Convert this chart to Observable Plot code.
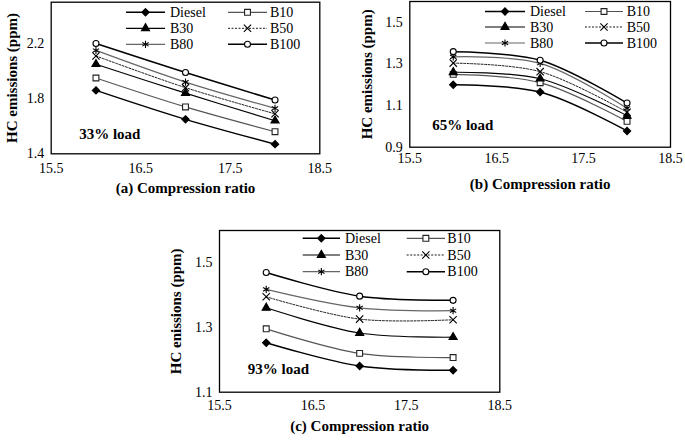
<!DOCTYPE html>
<html>
<head>
<meta charset="utf-8">
<script src="https://cdn.jsdelivr.net/npm/d3@7"></script>
<script src="https://cdn.jsdelivr.net/npm/@observablehq/plot@0.6"></script>
<style>
  html, body { margin: 0; padding: 0; background: #fff; }
  #wrap { position: relative; width: 685px; height: 441px; overflow: hidden; background: #fff; }
  #wrap svg { position: absolute; background: transparent; }
  #wrap svg text { font-family: "Liberation Serif", serif !important; }
</style>
</head>
<body>
<div id="wrap"></div>
<script>
// ---- data ----
const compressionRatio = [16, 17, 18];
const fuels = ["Diesel", "B10", "B30", "B50", "B80", "B100"];
const xTicks = [15.5, 16.5, 17.5, 18.5];

// HC emissions (ppm); rows follow `fuels`, columns = compression ratio 16, 17, 18
const hc33 = [
  [1.86, 1.65, 1.47],
  [1.95, 1.74, 1.56],
  [2.05, 1.84, 1.64],
  [2.11, 1.88, 1.69],
  [2.15, 1.92, 1.73],
  [2.20, 1.99, 1.79]
];
const hc65 = [
  [1.20, 1.165, 0.978],
  [1.25, 1.21, 1.024],
  [1.26, 1.229, 1.05],
  [1.304, 1.263, 1.068],
  [1.334, 1.303, 1.087],
  [1.359, 1.318, 1.112]
];
const hc93 = [
  [1.253, 1.181, 1.168],
  [1.296, 1.22, 1.207],
  [1.361, 1.283, 1.27],
  [1.395, 1.326, 1.324],
  [1.418, 1.361, 1.352],
  [1.47, 1.397, 1.384]
];
const yTicks33 = [1.4, 1.8, 2.2];
const yTicks65 = [0.9, 1.1, 1.3, 1.5];
const yTicks93 = [1.1, 1.3, 1.5];

// ---- styles ----
const FONT = "'Liberation Serif', serif";
const styles = [
  {stroke: "#000", w: 1.5, dash: null, symbol: "diamond2", d3sym: d3.symbolDiamond2, fill: "#000", mstroke: "#000", r: 3.3},
  {stroke: "#555", w: 1.2, dash: null, symbol: "square", d3sym: d3.symbolSquare, fill: "#fff", mstroke: "#222", r: 3.3},
  {stroke: "#000", w: 1.2, dash: null, symbol: "triangle", d3sym: d3.symbolTriangle, fill: "#000", mstroke: "#000", r: 3.0},
  {stroke: "#000", w: 0.9, dash: "2,1.5", symbol: "times", d3sym: d3.symbolTimes, fill: "none", mstroke: "#000", r: 3.4},
  {stroke: "#666", w: 1.2, dash: null, symbol: "asterisk", d3sym: d3.symbolAsterisk, fill: "none", mstroke: "#000", r: 3.4},
  {stroke: "#000", w: 1.5, dash: null, symbol: "circle", d3sym: d3.symbolCircle, fill: "#fff", mstroke: "#000", r: 3.0}
];

function panel(cfg) {
  const rows = [];
  fuels.forEach((f, i) => compressionRatio.forEach((cr, j) => rows.push({fuel: f, cr, hc: cfg.values[i][j]})));
  const marks = [];
  fuels.forEach((f, i) => {
    const s = styles[i];
    marks.push(Plot.line(rows.filter(r => r.fuel === f), {
      x: "cr", y: "hc", stroke: s.stroke, strokeWidth: s.w, strokeDasharray: s.dash, curve: "catmull-rom"
    }));
  });
  fuels.forEach((f, i) => {
    const s = styles[i];
    marks.push(Plot.dot(rows.filter(r => r.fuel === f), {
      x: "cr", y: "hc", symbol: s.symbol, r: s.r, fill: s.fill, stroke: s.mstroke, strokeWidth: 1.1
    }));
  });
  marks.push(Plot.frame({stroke: "#000", strokeWidth: 1.3}));
  marks.push(Plot.text([cfg.loadLabel], {text: d => d, frameAnchor: "bottom-left", textAnchor: "start",
    dx: cfg.loadDx, dy: cfg.loadDy, fontWeight: "bold", fontSize: 15, fill: "#000"}));
  marks.push(Plot.text([cfg.xTitle], {text: d => d, frameAnchor: "bottom", textAnchor: "middle", dy: cfg.xTitleDy,
    fontWeight: "bold", fontSize: 15, fill: "#000"}));
  marks.push(Plot.text([cfg.yTitle], {text: d => d, frameAnchor: "left", textAnchor: "middle", rotate: -90, dx: cfg.yTitleDx,
    fontWeight: "bold", fontSize: 15, fill: "#000"}));

  const svg = Plot.plot({
    width: cfg.width, height: cfg.height,
    marginLeft: cfg.ml, marginRight: cfg.mr, marginTop: cfg.mt, marginBottom: cfg.mb,
    style: {fontFamily: FONT, fontSize: "14px", color: "#000", background: "transparent"},
    x: {domain: [15.5, 18.5], ticks: xTicks, tickSize: 0, tickPadding: cfg.xPad, label: null, tickFormat: d => d.toFixed(1)},
    y: {domain: cfg.yDomain, ticks: cfg.yTicks, tickSize: 0, tickPadding: 7, label: null, tickFormat: d => d.toFixed(1)},
    marks
  });
  svg.style.left = cfg.left + "px";
  svg.style.top = cfg.top + "px";

  // legend (inside the frame, top right)
  const g = d3.select(svg).append("g").attr("font-family", FONT).attr("font-size", 14).attr("text-anchor", "start");
  fuels.forEach((f, i) => {
    const s = styles[i];
    const col = i % 2, row = Math.floor(i / 2);
    const L = cfg.legend.cols[col];
    const y = cfg.legend.rows[row];
    g.append("line").attr("x1", L[0]).attr("x2", L[1]).attr("y1", y).attr("y2", y)
      .attr("stroke", s.stroke).attr("stroke-width", s.w).attr("stroke-dasharray", s.dash);
    const size = Math.PI * s.r * s.r;
    g.append("path").attr("d", d3.symbol(s.d3sym, size)())
      .attr("transform", `translate(${(L[0] + L[1]) / 2},${y})`)
      .attr("fill", s.fill).attr("stroke", s.mstroke).attr("stroke-width", 1.1);
    g.append("text").attr("x", L[2]).attr("y", y).attr("dy", "0.34em").attr("fill", "#000")
      .attr("text-anchor", "start").text(f);
  });
  document.getElementById("wrap").appendChild(svg);
}

panel({
  values: hc33, yDomain: [1.4, 2.5], yTicks: yTicks33,
  loadLabel: "33% load", xTitle: "(a) Compression ratio", yTitle: "HC emissions (ppm)",
  left: 0, top: 0, width: 340, height: 215, ml: 50.7, mr: 20.7, mt: 1.7, mb: 61.7,
  xPad: 9, loadDx: 28, loadDy: -15, xTitleDy: 38.7, yTitleDx: -38.7,
  legend: {rows: [12.3, 28.3, 44.3], cols: [[126, 165, 170], [228, 267, 270]]}
});
panel({
  values: hc65, yDomain: [0.9, 1.6], yTicks: yTicks65,
  loadLabel: "65% load", xTitle: "(b) Compression ratio", yTitle: "HC emissions (ppm)",
  left: 340, top: 0, width: 345, height: 215, ml: 69.3, mr: 15, mt: 1, mb: 68.3,
  xPad: 6, loadDx: 22.4, loadDy: -17.7, xTitleDy: 41.6, yTitleDx: -42.3,
  legend: {rows: [11.5, 27, 43], cols: [[145, 185, 190], [245, 283, 286.7]]}
});
panel({
  values: hc93, yDomain: [1.1, 1.6], yTicks: yTicks93,
  loadLabel: "93% load", xTitle: "(c) Compression ratio", yTitle: "HC enissions (ppm)",
  left: 150, top: 220, width: 370, height: 221, ml: 69, mr: 20.7, mt: 10, mb: 49.3,
  xPad: 8, loadDx: 28.3, loadDy: -18.2, xTitleDy: 38.3, yTitleDx: -43,
  legend: {rows: [18.3, 35, 51.7], cols: [[152.7, 190, 195], [256.7, 295, 297.3]]}
});
</script>
</body>
</html>
